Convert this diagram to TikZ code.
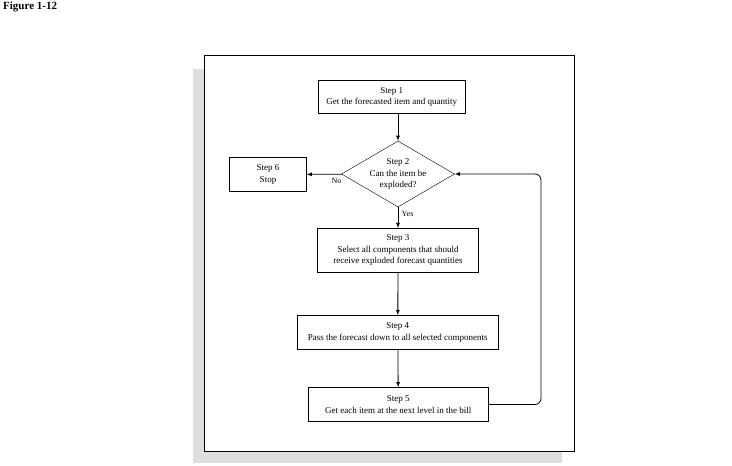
\documentclass[tikz,border=0pt]{standalone}
\usepackage{fontspec}
\setmainfont{Liberation Serif}
\usepackage{xcolor}
\usetikzlibrary{arrows,shapes.geometric}

\definecolor{shadowgray}{gray}{0.87}

\tikzset{
	stepbox/.style={draw,rectangle,inner sep=0pt,align=center,font=\fontsize{9}{11.5}\selectfont},
	decision/.style={draw,diamond,aspect=1.7,inner sep=0pt,align=center,font=\fontsize{9}{11.5}\selectfont},
}

\begin{document}
\begin{tikzpicture}[x=1pt,y=-1pt]
		\useasboundingbox (0,0) rectangle (732,466);
		\node[anchor=west,font=\bfseries\fontsize{11}{13}\selectfont,inner sep=0pt] (title) at (3,7) {Figure 1-12};
		%
		\fill[shadowgray] (193,69) rectangle (562,463);
		\draw[line width=1pt,fill=white] (204,55) rectangle (574,451);
		%
		\node[stepbox,minimum width=147pt,minimum height=33pt] (S1) at (391.7,97) {Step 1\\Get the forecasted item and quantity};
		\node[decision,minimum width=113pt,minimum height=66pt] (S2) at (398,174) {Step 2\\Can the item be\\exploded?};
		\node[stepbox,minimum width=77pt,minimum height=34pt] (S6) at (268,174.5) {Step 6\\Stop};
		\node[stepbox,minimum width=161pt,minimum height=44pt] (S3) at (398,250.3) {Step 3\\Select all components that should\\receive exploded forecast quantities};
		\node[stepbox,minimum width=201pt,minimum height=34pt] (S4) at (397.8,332.3) {Step 4\\Pass the forecast down to all selected components};
		\node[stepbox,minimum width=180pt,minimum height=34pt] (S5) at (398.3,404.5) {Step 5\\Get each item at the next level in the bill};
		\coordinate (back) at (541,174);
		%
		\path[->,font=\fontsize{8}{10}\selectfont,>=latex,line width=0.8pt]
		(S1.south -| S2.north) edge (S2.north)
		(S2) edge node[pos=0.15,below]{No} (S6)
		(S2) edge node[pos=0.3,right]{Yes} (S3)
		(S3) edge (S4)
		(S4) edge (S5);
		\draw[->,>=latex,line width=0.8pt,rounded corners=6pt] (S5.east) -| (back) -- (S2.east);
	\end{tikzpicture}
\end{document}
